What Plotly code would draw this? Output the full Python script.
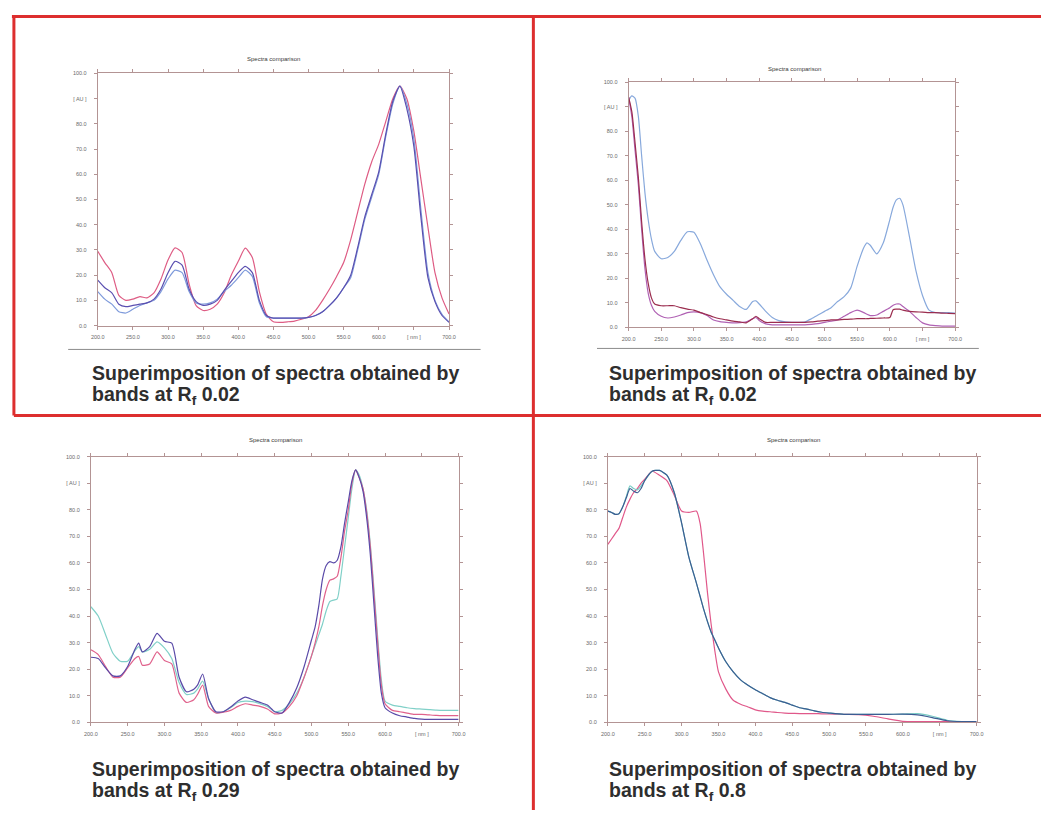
import plotly.graph_objects as go

W, H = 1048, 813

# ---------------- data ----------------
p1_nm = [200, 210, 220, 230, 240, 250, 260, 270, 280, 290, 300, 310, 320, 330, 340, 350, 360, 370, 380, 390,
         400, 410, 420, 430, 440, 450, 460, 470, 480, 490, 500, 510, 520, 530, 540, 550, 560, 570, 580, 590,
         600, 610, 620, 630, 640, 650, 660, 670, 680, 690, 700]
p1_red = [29.5, 25, 21, 12, 10, 10.5, 11.5, 11, 13, 18.5, 26, 30.8, 29, 16.5, 7.9, 6, 6.5, 8.5, 13, 20,
          25.5, 30.7, 27, 13.5, 4.5, 1.5, 1.3, 1.5, 1.8, 2.5, 3.5, 6, 10, 14.5, 19.5, 25, 34, 45, 56, 65,
          72, 81, 90, 95, 90, 77, 58, 39, 21, 11, 4.6]
p1_purple = [18, 15, 13, 8.5, 7.5, 8, 8.5, 9, 10.5, 14.5, 21, 25.5, 24, 14.5, 9.5, 8, 8.5, 10, 14, 17.5,
             21, 23.5, 21, 10, 4, 3, 3, 3, 3, 3, 3.3, 4, 5.5, 8, 11, 15, 20, 31, 43, 52,
             61, 76, 89, 95, 86, 71, 43, 19, 9.5, 4, 1.3]
p1_blue = [13.5, 10.5, 8.5, 5.5, 5, 6.5, 8, 9, 10, 13.5, 18.5, 22, 21, 13.5, 9, 8.5, 9, 10.5, 13.5, 16,
           19, 22, 19.5, 9, 3.5, 3, 3, 3, 3, 3, 3.3, 4, 5.5, 8, 11, 15, 19, 30, 42, 51,
           60, 75, 88, 95, 88, 74, 46, 21, 10, 4.5, 1.5]

p2_nm = [200, 205, 210, 215, 220, 225, 230, 235, 240, 250, 260, 270, 280, 290, 300, 310, 320, 330, 340, 350,
         360, 370, 380, 390, 395, 400, 410, 420, 430, 440, 450, 460, 470, 480, 490, 500, 510, 520, 530, 540,
         550, 560, 565, 570, 580, 590, 600, 605, 610, 615, 620, 630, 640, 650, 660, 670, 680, 690, 700]
p2_blue = [92.6, 94.5, 93.5, 86, 70, 55, 44, 36, 31, 28, 28.5, 31, 35.5, 39, 38.8, 34, 27.5, 21.5, 16.5, 13.5,
           11, 8.5, 7.3, 10.5, 10.8, 9.5, 6.5, 4, 2.7, 2.2, 2, 2, 2.2, 3.5, 5, 6.5, 8, 10.5, 12.5, 16,
           25, 32.5, 34.5, 33.5, 30, 34.5, 44, 49, 52, 52.7, 50, 37, 23, 13, 7, 6, 6, 6, 5.8]
p2_maroon = [94, 88, 75, 61, 43, 28, 18, 12, 9.5, 8.8, 8.8, 8.8, 8, 7.4, 7, 6, 5.2, 4.2, 3.5, 3,
             2.5, 2.2, 1.8, 3.5, 4.5, 3.5, 2, 2, 2, 2, 2, 2, 2, 2.2, 2.5, 2.7, 3, 3, 3.2, 3.3,
             3.5, 3.5, 3.5, 3.6, 3.7, 3.8, 4, 7.2, 7.4, 7.4, 7, 6.5, 6.3, 6.2, 6, 6, 5.8, 5.7, 5.6]
p2_violet = [94, 86, 72, 58, 40, 24, 14, 9, 6.5, 4.5, 3.8, 4.2, 5, 6, 6.3, 6, 4.8, 3, 2.3, 2,
             1.8, 1.9, 2.2, 3.5, 4, 2.8, 1.4, 1, 1, 1, 1, 1, 1, 1.2, 1.5, 2, 2.5, 3, 4.5, 6,
             7, 6, 5.3, 4.8, 5, 6.5, 8, 9, 9.5, 9.5, 8.5, 6.5, 4, 1.8, 1, 0.7, 0.5, 0.5, 0.5]

p3_nm = [200, 210, 220, 230, 240, 250, 260, 265, 270, 280, 290, 300, 310, 320, 330, 340, 345, 352, 360, 370,
         380, 390, 400, 410, 420, 430, 440, 450, 460, 470, 480, 490, 500, 505, 510, 515, 520, 525, 530, 535,
         540, 545, 550, 555, 560, 565, 570, 575, 580, 585, 590, 595, 600, 610, 620, 630, 640, 650, 660, 670,
         680, 690, 700]
p3_teal = [43.5, 40, 33, 26, 23, 23, 27, 28.5, 26.5, 27.5, 30.3, 28, 24, 15, 10.5, 11, 12.5, 15.5, 9, 3.6,
           4, 5.5, 7.5, 8, 7.8, 7, 6, 4, 4.5, 7, 11, 17, 25, 29, 33, 37, 42, 45.5, 46, 46.5,
           55, 66, 77, 88, 95, 93, 88, 80, 67, 50, 32, 16, 8, 6.5, 6, 5.5, 5.2, 5, 4.8, 4.6,
           4.5, 4.5, 4.5]
p3_pink = [27.3, 25.5, 21, 17, 17, 20.5, 24, 24.8, 21.5, 22, 26.5, 23.3, 22, 11, 7.5, 8.5, 10.5, 14, 6, 3.5,
           3.8, 4.5, 6, 7, 6.5, 6, 5, 3.2, 3.5, 6, 10, 17, 25, 30, 36, 44, 50, 53.5, 54, 55,
           62, 72, 80, 90, 95, 92, 88, 79, 66, 48, 30, 14, 7, 4.5, 4, 3.5, 3, 3, 2.8, 2.6,
           2.5, 2.5, 2.5]
p3_purple = [24.5, 24, 20.5, 17.5, 17.5, 21, 27.5, 29.8, 26.5, 28.5, 33.5, 30.5, 29.8, 17, 11.5, 12.5, 14, 18.2, 9, 4,
             4, 5.8, 8, 9.5, 8.5, 7.5, 6.5, 4, 3.5, 7.5, 13, 21, 31, 36, 44, 54, 59, 60.5, 60, 61,
             66, 75, 83, 91, 95, 92, 87, 77, 63, 44, 25, 11, 5.5, 3.5, 2.5, 2, 1.5, 1.2, 1.1, 1.1,
             1.1, 1.1, 1.1]

p4_nm = [200, 205, 210, 215, 220, 225, 230, 235, 240, 245, 250, 260, 270, 280, 290, 300, 310, 320, 325, 330,
         335, 340, 345, 350, 360, 370, 380, 390, 400, 410, 420, 430, 440, 450, 460, 470, 480, 490, 500, 520,
         540, 560, 580, 600, 620, 640, 660, 680, 700]
p4_teal = [79.5, 79, 78.3, 78.5, 81, 85, 89, 88, 87.5, 89, 91, 94.5, 94.8, 93, 86.5, 75, 62, 52.5, 47.5, 42.5,
           38, 34, 31, 28, 22.8, 19, 16, 14, 12.3, 10.8, 9.3, 8.3, 7.5, 6.5, 5.5, 5, 4.3, 3.8, 3.5, 3,
           3, 3, 3, 3.1, 3.3, 2.3, 0.8, 0.3, 0.3]
p4_blue = [79.5, 79, 78.3, 78.5, 81, 84.5, 88, 87, 86.4, 88, 91, 94.5, 94.8, 93, 86.5, 75, 62, 52.5, 47.5, 42.5,
           38, 34, 31, 28, 22.8, 19, 16, 14, 12.3, 10.8, 9.3, 8.3, 7.5, 6.5, 5.5, 5, 4.3, 3.8, 3.5, 3,
           3, 3, 3, 3.1, 2.8, 1.8, 0.6, 0.3, 0.3]
p4_pink = [67, 69, 71, 73, 77, 81, 84, 86.5, 88, 90, 91.5, 94.5, 93, 91, 85.5, 79.5, 79, 79.5, 75, 63,
           49, 37, 27, 19, 12.5, 8.3, 6.8, 5.8, 4.7, 4.2, 4, 3.7, 3.5, 3.4, 3.3, 3.3, 3.3, 3.2, 3.2, 3,
           2.9, 2.3, 1.3, 0.4, 0.3, 0.3, 0.3, 0.3, 0.3]

y_tick_vals = [0, 10, 20, 30, 40, 50, 60, 70, 80, 90, 100]
y_tick_text = ["0.0", "10.0", "20.0", "30.0", "40.0", "50.0", "60.0", "70.0", "80.0", "[ AU ]", "100.0"]
x_tick_vals = [200, 250, 300, 350, 400, 450, 500, 550, 600, 650, 700]
x_tick_text = ["200.0", "250.0", "300.0", "350.0", "400.0", "450.0", "500.0", "550.0", "600.0", "[ nm ]", "700.0"]

chart_title = "Spectra comparison"
captions = ["0.02", "0.02", "0.29", "0.8"]

# ---------------- layout helpers ----------------
def fx(px):
    return px / W

def fy(py):
    return 1 - py / H

AX = "#b39494"
TICKFONT = dict(family="Liberation Sans, Arial", size=5.5, color="#6a6a6a")

panels = [
    dict(nm=p1_nm, series=[(p1_red, "#de5c84"), (p1_blue, "#7f9bdb"), (p1_purple, "#5a4fb0")],
         box=(92, 448, 71, 325), title=(270, 56), cap=(87, 380)),
    dict(nm=p2_nm, series=[(p2_blue, "#88a9dc"), (p2_violet, "#b062b4"), (p2_maroon, "#9b2d4f")],
         box=(630, 961, 80, 326.7), title=(798, 66), cap=(611, 380)),
    dict(nm=p3_nm, series=[(p3_teal, "#80d0c8"), (p3_pink, "#e0628c"), (p3_purple, "#5a4aa8")],
         box=(85, 457.7, 457, 724.7), title=(272, 440), cap=(87, 779)),
    dict(nm=p4_nm, series=[(p4_pink, "#e0588a"), (p4_teal, "#78ccc4"), (p4_blue, "#3c5c92")],
         box=(609, 982.7, 457, 724.7), title=(797, 440), cap=(611, 779)),
]

fig = go.Figure()
layout = dict(width=W, height=H, margin=dict(l=0, r=0, t=0, b=0),
              paper_bgcolor="white", plot_bgcolor="white", showlegend=False)
annotations = []
shapes = []

for i, p in enumerate(panels, start=1):
    xs = "" if i == 1 else str(i)
    x0, x1, y0, y1 = p["box"]
    for vals, col in p["series"]:
        fig.add_trace(go.Scatter(x=p["nm"], y=vals, mode="lines",
                                 line=dict(color=col, width=1.2, shape="spline", smoothing=0.6),
                                 xaxis="x" + xs, yaxis="y" + xs, hoverinfo="skip"))
    common = dict(showgrid=False, zeroline=False, showline=True, linecolor=AX, linewidth=1,
                  ticks="outside", ticklen=3, tickcolor=AX, tickwidth=1, mirror="allticks",
                  tickfont=TICKFONT, fixedrange=True)
    layout["xaxis" + xs] = dict(domain=[fx(x0), fx(x1)], range=[200, 700], anchor="y" + xs,
                                tickmode="array", tickvals=x_tick_vals, ticktext=x_tick_text,
                                ticklabelstandoff=3, **common)
    layout["yaxis" + xs] = dict(domain=[fy(y1), fy(y0)], range=[0, 100], anchor="x" + xs,
                                tickmode="array", tickvals=y_tick_vals, ticktext=y_tick_text,
                                ticklabelstandoff=6, **common)
    layout["yaxis" + str(i + 4)] = dict(overlaying="y" + xs, side="right", anchor="x" + xs,
                                        range=[0, 100], tickmode="array", tickvals=y_tick_vals,
                                        ticktext=y_tick_text, showgrid=False, zeroline=False,
                                        showline=False, ticks="", tickfont=TICKFONT,
                                        ticklabelstandoff=8, fixedrange=True)
    tx, ty = p["title"]
    annotations.append(dict(text=chart_title, x=fx(tx), y=fy(ty), xref="paper", yref="paper",
                            showarrow=False, xanchor="center", yanchor="middle",
                            font=dict(family="Liberation Sans, Arial", size=6, color="#3a3a3a")))
    cx, cy = p["cap"]
    capfont = dict(family="Liberation Sans, Arial", size=19.5, color="#2e2e2e")
    annotations.append(dict(text="<b>Superimposition of spectra obtained by</b>",
                            x=fx(cx - 2), y=fy(cy - 7.5), xref="paper", yref="paper", showarrow=False,
                            xanchor="left", yanchor="middle", borderpad=0, font=capfont))
    annotations.append(dict(text="<b>bands at R<sub>f</sub> " + captions[i - 1] + "</b>",
                            x=fx(cx - 2), y=fy(cy + 15), xref="paper", yref="paper", showarrow=False,
                            xanchor="left", yanchor="middle", borderpad=0, font=capfont))

# gray rule under the two upper screenshots
for (a, b, yy) in [(62, 480, 349), (598, 985, 348)]:
    shapes.append(dict(type="line", xref="paper", yref="paper", x0=fx(a), x1=fx(b), y0=fy(yy), y1=fy(yy),
                       line=dict(color="#8c8c8c", width=1)))

# red frame
RED = "#dd2e2e"
for (a, b, c, d) in [(5, 1048, 13.5, 13.5), (7, 7, 12, 415.5), (533.5, 533.5, 12, 813),
                     (7, 1048, 415.5, 415.5)]:
    shapes.append(dict(type="line", xref="paper", yref="paper", x0=fx(a), x1=fx(b), y0=fy(c), y1=fy(d),
                       line=dict(color=RED, width=3)))

layout["annotations"] = annotations
layout["shapes"] = shapes
fig.update_layout(**layout)
fig.write_html("out.html", config={"displayModeBar": False},
               post_script="document.body.style.margin='0';document.body.style.overflow='hidden';"
                           "document.documentElement.style.overflow='hidden';")
